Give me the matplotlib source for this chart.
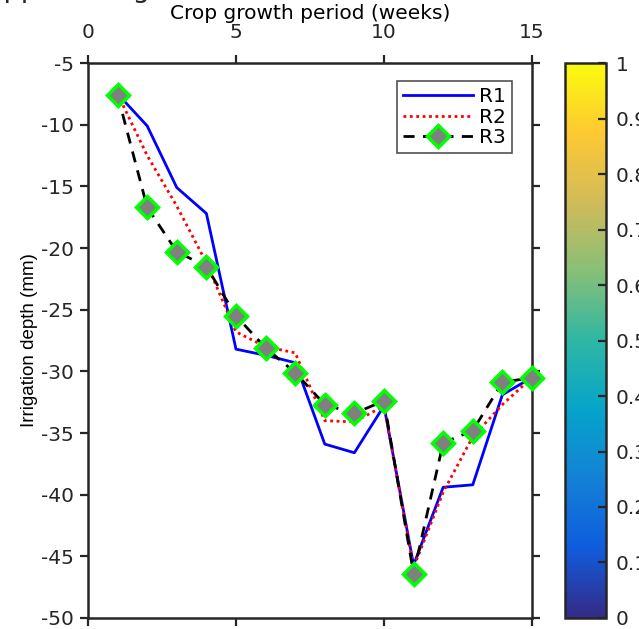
import matplotlib

matplotlib.use("Agg")
import matplotlib.pyplot as plt
import numpy as np
from matplotlib.colors import LinearSegmentedColormap, Normalize
from matplotlib.cm import ScalarMappable

plt.rcParams["font.family"] = ["DejaVu Sans"]
plt.rcParams["axes.unicode_minus"] = False

weeks = np.arange(1, 16)
r1 = [-7.5, -10.1, -15.1, -17.2, -28.2, -28.7, -29.3, -35.9, -36.6, -32.8,
      -45.7, -39.4, -39.2, -31.9, -30.5]
r2 = [-7.5, -12.5, -16.6, -21.2, -26.8, -28.0, -28.5, -34.0, -34.1, -32.8,
      -45.9, -39.8, -35.3, -32.7, -30.5]
r3 = [-7.6, -16.7, -20.3, -21.5, -25.5, -28.1, -30.1, -32.7, -33.4, -32.4,
      -46.4, -35.8, -34.8, -30.9, -30.5]

# approximation de parula (MATLAB)
parula_pts = ["#352a87", "#0f5cdd", "#1481d6", "#06a4ca", "#2eb7a4",
              "#87bf77", "#d1bb59", "#fec832", "#f9fb0e"]
cb_ticks = np.round(np.arange(0, 1.01, 0.1), 1)

fs = 14.5
fig = plt.figure(figsize=(6.39, 6.29), dpi=100)
ax = fig.add_axes([0.1377, 0.0175, 0.6948, 0.8823])

ax.plot(weeks, r1, color="#0000ff", lw=2.0, label="R1")
ax.plot(weeks, r2, color="#ff0000", lw=2.0, ls=(0, (1, 1.3)), label="R2")
ax.plot(weeks, r3, color="black", lw=2.0, ls=(0, (4, 3)), marker="D",
        markersize=11, markerfacecolor="#808080", markeredgecolor="#00ff00",
        markeredgewidth=2.5, label="R3", clip_on=False, zorder=3)

ax.set_xlim(0, 15)
ax.set_ylim(-50, -5)
ax.set_xticks([0, 5, 10, 15])
ax.set_yticks(np.arange(-50, -4, 5))
ax.xaxis.set_label_position("top")
ax.set_xlabel("Crop growth period (weeks)", fontsize=fs, labelpad=3)
ax.set_ylabel("Irrigation depth (mm)", fontsize=13.5, labelpad=2,
              family="Liberation Sans")
ax.tick_params(top=True, bottom=True, left=True, right=True,
               labeltop=True, labelbottom=False, direction="out",
               length=6, width=1.6, labelsize=fs, colors="#262626", pad=4)
ax.tick_params(axis="x", pad=9)
for s in ax.spines.values():
    s.set_linewidth(1.8)
    s.set_color("#262626")

leg = ax.legend(loc="upper right", bbox_to_anchor=(0.955, 0.967), fontsize=fs,
                numpoints=1, handlelength=3.5, fancybox=False,
                borderaxespad=0, borderpad=0.3, handletextpad=0.3,
                labelspacing=0.06)
leg.get_frame().set_edgecolor("#262626")
leg.get_frame().set_linewidth(1.2)

cax = fig.add_axes([0.8842, 0.0175, 0.0642, 0.8823])
cmap = LinearSegmentedColormap.from_list("parula", parula_pts, N=256)
cb = fig.colorbar(ScalarMappable(Normalize(0, 1), cmap=cmap), cax=cax,
                  ticks=cb_ticks)
cb.ax.set_yticklabels([f"{t:g}" for t in cb_ticks])
cb.ax.tick_params(direction="in", length=6, width=1.6, labelsize=fs,
                  colors="#262626", pad=7)
cb.outline.set_linewidth(1.8)
cb.outline.set_edgecolor("#262626")

# titre coupe en haut de l'image d'origine
fig.text(-0.023, 1.005, "Applied irrigation", fontsize=19.5, va="baseline",
         color="#262626")

fig.savefig("out.png", dpi=100)
